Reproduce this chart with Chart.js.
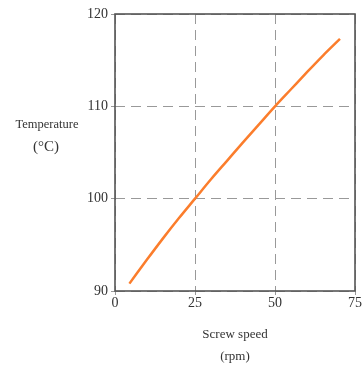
<!DOCTYPE html>
<html>
<head>
<meta charset="utf-8">
<script src="https://cdn.jsdelivr.net/npm/chart.js@4/dist/chart.umd.min.js"></script>
<style>
  body { margin: 0; background: #fff; }
  #wrap { width: 363px; height: 365px; }
</style>
</head>
<body>
<div id="wrap"><canvas id="tempChart" width="363" height="365"></canvas></div>
<script>
// Data
const screwSpeed = [4.5, 10, 15, 20, 25, 30, 35, 40, 45, 50, 55, 60, 65, 70.3];
const temperature = [90.8, 93.4, 95.7, 97.9, 100, 102.1, 104.1, 106.1, 108.05, 110, 111.85, 113.7, 115.5, 117.3];
const xTicks = [0, 25, 50, 75];
const yTicks = [90, 100, 110, 120];

const serif = '"Liberation Serif", "Times New Roman", serif';
const textColor = '#333';

// Axis titles drawn horizontally, plus the frame round the plot
const framePlugin = {
    id: 'frame',
    afterDraw(chart) {
        const { ctx, chartArea: a } = chart;
        ctx.save();
        ctx.strokeStyle = '#555';
        ctx.lineWidth = 1.6;
        ctx.strokeRect(a.left, a.top, a.right - a.left, a.bottom - a.top);

        ctx.fillStyle = textColor;
        ctx.textAlign = 'center';
        ctx.textBaseline = 'middle';
        ctx.font = '12.5px ' + serif;
        ctx.fillText('Temperature', 47, 125);
        ctx.font = '15px ' + serif;
        ctx.fillText('(°C)', 46, 147);

        const cx = (a.left + a.right) / 2;
        ctx.font = '13px ' + serif;
        ctx.fillText('Screw speed', cx, 335);
        ctx.fillText('(rpm)', cx, 357);
        ctx.restore();
    }
};

new Chart(document.getElementById('tempChart'), {
    type: 'line',
    data: {
        datasets: [{
            data: screwSpeed.map((x, i) => ({ x: x, y: temperature[i] })),
            borderColor: '#fb7d2c',
            borderWidth: 2.5,
            pointRadius: 0,
            cubicInterpolationMode: 'monotone',
            fill: false
        }]
    },
    options: {
        responsive: false,
        animation: false,
        layout: { padding: { left: 0, right: 8, top: 14, bottom: 0 } },
        plugins: { legend: { display: false }, tooltip: { enabled: false } },
        scales: {
            x: {
                type: 'linear',
                min: 0,
                max: 75,
                afterBuildTicks: s => { s.ticks = xTicks.map(v => ({ value: v })); },
                afterFit: s => { s.height = 74; },
                grid: { color: '#999', lineWidth: 1, tickLength: 4 },
                border: { display: false, dash: [10, 6] },
                ticks: {
                    color: textColor,
                    padding: 0,
                    maxRotation: 0,
                    font: { family: serif, size: 14 }
                }
            },
            y: {
                min: 90,
                max: 120,
                afterBuildTicks: s => { s.ticks = yTicks.map(v => ({ value: v })); },
                afterFit: s => { s.width = 115; },
                grid: { color: '#999', lineWidth: 1, tickLength: 4 },
                border: { display: false, dash: [10, 6] },
                ticks: {
                    color: textColor,
                    padding: 3,
                    font: { family: serif, size: 14 }
                }
            }
        }
    },
    plugins: [framePlugin]
});
</script>
</body>
</html>
